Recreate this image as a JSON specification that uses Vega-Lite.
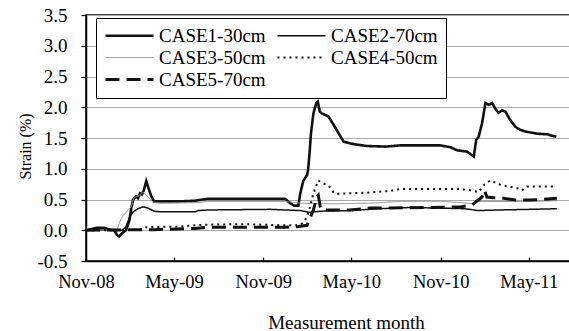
{
  "$schema": "https://vega.github.io/schema/vega-lite/v6.json",
  "autosize": {"type": "none"},
  "padding": {"left": 86, "top": 15, "right": 0, "bottom": 70},
  "width": 484,
  "height": 246,
  "background": "white",
  "config": {
    "view": {"stroke": "black", "strokeWidth": 1.5},
    "font": "Liberation Serif",
    "axis": {"labelFont": "Liberation Serif", "titleFont": "Liberation Serif", "labelColor": "black", "titleColor": "black", "titleFontWeight": "normal", "domainColor": "black", "domainWidth": 1.5, "tickColor": "black", "tickWidth": 1.2},
    "legend": {"labelFont": "Liberation Serif"}
  },
  "data": {
    "values": [
      {"d": "2008/11/01", "c": "CASE1-30cm", "v": 0},
      {"d": "2008/11/13", "c": "CASE1-30cm", "v": 0.02},
      {"d": "2008/11/24", "c": "CASE1-30cm", "v": 0.04},
      {"d": "2008/12/08", "c": "CASE1-30cm", "v": 0.04},
      {"d": "2008/12/20", "c": "CASE1-30cm", "v": 0.01},
      {"d": "2008/12/29", "c": "CASE1-30cm", "v": 0.0},
      {"d": "2009/01/04", "c": "CASE1-30cm", "v": -0.08},
      {"d": "2009/01/08", "c": "CASE1-30cm", "v": -0.1},
      {"d": "2009/01/14", "c": "CASE1-30cm", "v": -0.05},
      {"d": "2009/01/22", "c": "CASE1-30cm", "v": 0.0},
      {"d": "2009/01/29", "c": "CASE1-30cm", "v": 0.15},
      {"d": "2009/02/02", "c": "CASE1-30cm", "v": 0.35},
      {"d": "2009/02/06", "c": "CASE1-30cm", "v": 0.5},
      {"d": "2009/02/12", "c": "CASE1-30cm", "v": 0.55},
      {"d": "2009/02/16", "c": "CASE1-30cm", "v": 0.52},
      {"d": "2009/02/20", "c": "CASE1-30cm", "v": 0.6},
      {"d": "2009/02/24", "c": "CASE1-30cm", "v": 0.58},
      {"d": "2009/02/28", "c": "CASE1-30cm", "v": 0.65},
      {"d": "2009/03/05", "c": "CASE1-30cm", "v": 0.8},
      {"d": "2009/03/09", "c": "CASE1-30cm", "v": 0.7},
      {"d": "2009/03/15", "c": "CASE1-30cm", "v": 0.56},
      {"d": "2009/03/21", "c": "CASE1-30cm", "v": 0.47},
      {"d": "2009/04/02", "c": "CASE1-30cm", "v": 0.47},
      {"d": "2009/05/14", "c": "CASE1-30cm", "v": 0.47},
      {"d": "2009/06/13", "c": "CASE1-30cm", "v": 0.48},
      {"d": "2009/07/08", "c": "CASE1-30cm", "v": 0.51},
      {"d": "2009/09/14", "c": "CASE1-30cm", "v": 0.51},
      {"d": "2009/12/16", "c": "CASE1-30cm", "v": 0.51},
      {"d": "2009/12/26", "c": "CASE1-30cm", "v": 0.44},
      {"d": "2010/01/03", "c": "CASE1-30cm", "v": 0.4},
      {"d": "2010/01/12", "c": "CASE1-30cm", "v": 0.4},
      {"d": "2010/01/16", "c": "CASE1-30cm", "v": 0.6},
      {"d": "2010/01/22", "c": "CASE1-30cm", "v": 0.8},
      {"d": "2010/01/30", "c": "CASE1-30cm", "v": 0.9},
      {"d": "2010/02/01", "c": "CASE1-30cm", "v": 0.98},
      {"d": "2010/02/04", "c": "CASE1-30cm", "v": 1.25},
      {"d": "2010/02/07", "c": "CASE1-30cm", "v": 1.58},
      {"d": "2010/02/12", "c": "CASE1-30cm", "v": 1.9},
      {"d": "2010/02/18", "c": "CASE1-30cm", "v": 2.07},
      {"d": "2010/02/21", "c": "CASE1-30cm", "v": 2.09},
      {"d": "2010/02/25", "c": "CASE1-30cm", "v": 1.93},
      {"d": "2010/03/01", "c": "CASE1-30cm", "v": 1.9},
      {"d": "2010/03/15", "c": "CASE1-30cm", "v": 1.85},
      {"d": "2010/04/01", "c": "CASE1-30cm", "v": 1.63},
      {"d": "2010/04/15", "c": "CASE1-30cm", "v": 1.44},
      {"d": "2010/05/06", "c": "CASE1-30cm", "v": 1.4},
      {"d": "2010/06/02", "c": "CASE1-30cm", "v": 1.37},
      {"d": "2010/07/10", "c": "CASE1-30cm", "v": 1.36},
      {"d": "2010/08/10", "c": "CASE1-30cm", "v": 1.38},
      {"d": "2010/10/31", "c": "CASE1-30cm", "v": 1.38},
      {"d": "2010/11/21", "c": "CASE1-30cm", "v": 1.35},
      {"d": "2010/12/05", "c": "CASE1-30cm", "v": 1.3},
      {"d": "2010/12/25", "c": "CASE1-30cm", "v": 1.28},
      {"d": "2011/01/08", "c": "CASE1-30cm", "v": 1.2},
      {"d": "2011/01/13", "c": "CASE1-30cm", "v": 1.47},
      {"d": "2011/01/18", "c": "CASE1-30cm", "v": 1.52},
      {"d": "2011/01/25", "c": "CASE1-30cm", "v": 1.74},
      {"d": "2011/02/01", "c": "CASE1-30cm", "v": 2.07},
      {"d": "2011/02/08", "c": "CASE1-30cm", "v": 2.04},
      {"d": "2011/02/15", "c": "CASE1-30cm", "v": 2.07},
      {"d": "2011/02/21", "c": "CASE1-30cm", "v": 1.98},
      {"d": "2011/02/28", "c": "CASE1-30cm", "v": 1.91},
      {"d": "2011/03/07", "c": "CASE1-30cm", "v": 1.95},
      {"d": "2011/03/14", "c": "CASE1-30cm", "v": 1.93},
      {"d": "2011/03/24", "c": "CASE1-30cm", "v": 1.79},
      {"d": "2011/04/04", "c": "CASE1-30cm", "v": 1.68},
      {"d": "2011/04/14", "c": "CASE1-30cm", "v": 1.63},
      {"d": "2011/04/28", "c": "CASE1-30cm", "v": 1.6},
      {"d": "2011/05/18", "c": "CASE1-30cm", "v": 1.57},
      {"d": "2011/06/08", "c": "CASE1-30cm", "v": 1.56},
      {"d": "2011/06/27", "c": "CASE1-30cm", "v": 1.52},

      {"d": "2008/11/01", "c": "CASE2-70cm", "v": 0},
      {"d": "2008/12/20", "c": "CASE2-70cm", "v": 0.01},
      {"d": "2009/01/14", "c": "CASE2-70cm", "v": 0.0},
      {"d": "2009/01/22", "c": "CASE2-70cm", "v": 0.05},
      {"d": "2009/01/29", "c": "CASE2-70cm", "v": 0.2},
      {"d": "2009/02/06", "c": "CASE2-70cm", "v": 0.3},
      {"d": "2009/02/16", "c": "CASE2-70cm", "v": 0.35},
      {"d": "2009/02/26", "c": "CASE2-70cm", "v": 0.38},
      {"d": "2009/03/09", "c": "CASE2-70cm", "v": 0.36},
      {"d": "2009/03/21", "c": "CASE2-70cm", "v": 0.31},
      {"d": "2009/04/02", "c": "CASE2-70cm", "v": 0.3},
      {"d": "2009/06/13", "c": "CASE2-70cm", "v": 0.3},
      {"d": "2009/06/20", "c": "CASE2-70cm", "v": 0.32},
      {"d": "2009/07/12", "c": "CASE2-70cm", "v": 0.33},
      {"d": "2009/11/15", "c": "CASE2-70cm", "v": 0.34},
      {"d": "2009/12/16", "c": "CASE2-70cm", "v": 0.33},
      {"d": "2010/01/16", "c": "CASE2-70cm", "v": 0.32},
      {"d": "2010/02/05", "c": "CASE2-70cm", "v": 0.29},
      {"d": "2010/02/26", "c": "CASE2-70cm", "v": 0.31},
      {"d": "2010/04/28", "c": "CASE2-70cm", "v": 0.32},
      {"d": "2010/06/28", "c": "CASE2-70cm", "v": 0.35},
      {"d": "2010/08/29", "c": "CASE2-70cm", "v": 0.37},
      {"d": "2010/10/30", "c": "CASE2-70cm", "v": 0.36},
      {"d": "2010/12/21", "c": "CASE2-70cm", "v": 0.35},
      {"d": "2011/01/17", "c": "CASE2-70cm", "v": 0.32},
      {"d": "2011/03/03", "c": "CASE2-70cm", "v": 0.33},
      {"d": "2011/05/04", "c": "CASE2-70cm", "v": 0.34},
      {"d": "2011/06/28", "c": "CASE2-70cm", "v": 0.35},

      {"d": "2008/11/01", "c": "CASE3-50cm", "v": 0},
      {"d": "2008/12/20", "c": "CASE3-50cm", "v": 0.01},
      {"d": "2009/01/04", "c": "CASE3-50cm", "v": 0.0},
      {"d": "2009/01/09", "c": "CASE3-50cm", "v": 0.13},
      {"d": "2009/01/16", "c": "CASE3-50cm", "v": 0.24},
      {"d": "2009/01/22", "c": "CASE3-50cm", "v": 0.28},
      {"d": "2009/01/26", "c": "CASE3-50cm", "v": 0.33},
      {"d": "2009/02/02", "c": "CASE3-50cm", "v": 0.38},
      {"d": "2009/02/08", "c": "CASE3-50cm", "v": 0.54},
      {"d": "2009/02/16", "c": "CASE3-50cm", "v": 0.55},
      {"d": "2009/02/26", "c": "CASE3-50cm", "v": 0.62},
      {"d": "2009/03/05", "c": "CASE3-50cm", "v": 0.57},
      {"d": "2009/03/18", "c": "CASE3-50cm", "v": 0.46},
      {"d": "2009/04/01", "c": "CASE3-50cm", "v": 0.44},
      {"d": "2009/06/24", "c": "CASE3-50cm", "v": 0.45},
      {"d": "2009/07/08", "c": "CASE3-50cm", "v": 0.47},
      {"d": "2009/12/16", "c": "CASE3-50cm", "v": 0.47},
      {"d": "2010/01/16", "c": "CASE3-50cm", "v": 0.44},
      {"d": "2010/03/19", "c": "CASE3-50cm", "v": 0.43},
      {"d": "2010/06/09", "c": "CASE3-50cm", "v": 0.44},
      {"d": "2010/08/10", "c": "CASE3-50cm", "v": 0.47},
      {"d": "2010/10/31", "c": "CASE3-50cm", "v": 0.47},
      {"d": "2010/12/11", "c": "CASE3-50cm", "v": 0.45},
      {"d": "2011/01/05", "c": "CASE3-50cm", "v": 0.43},
      {"d": "2011/01/17", "c": "CASE3-50cm", "v": 0.47},
      {"d": "2011/04/14", "c": "CASE3-50cm", "v": 0.47},
      {"d": "2011/06/29", "c": "CASE3-50cm", "v": 0.48},

      {"d": "2008/11/01", "c": "CASE4-50cm", "v": 0},
      {"d": "2009/01/22", "c": "CASE4-50cm", "v": 0.0},
      {"d": "2009/02/28", "c": "CASE4-50cm", "v": 0.02},
      {"d": "2009/03/05", "c": "CASE4-50cm", "v": 0.05},
      {"d": "2009/05/14", "c": "CASE4-50cm", "v": 0.06},
      {"d": "2009/06/13", "c": "CASE4-50cm", "v": 0.08},
      {"d": "2009/07/08", "c": "CASE4-50cm", "v": 0.09},
      {"d": "2009/09/14", "c": "CASE4-50cm", "v": 0.1},
      {"d": "2009/12/16", "c": "CASE4-50cm", "v": 0.08},
      {"d": "2010/01/12", "c": "CASE4-50cm", "v": 0.08},
      {"d": "2010/01/22", "c": "CASE4-50cm", "v": 0.12},
      {"d": "2010/01/30", "c": "CASE4-50cm", "v": 0.22},
      {"d": "2010/02/05", "c": "CASE4-50cm", "v": 0.38},
      {"d": "2010/02/12", "c": "CASE4-50cm", "v": 0.6},
      {"d": "2010/02/22", "c": "CASE4-50cm", "v": 0.81},
      {"d": "2010/03/05", "c": "CASE4-50cm", "v": 0.76},
      {"d": "2010/03/15", "c": "CASE4-50cm", "v": 0.73},
      {"d": "2010/03/25", "c": "CASE4-50cm", "v": 0.62},
      {"d": "2010/04/01", "c": "CASE4-50cm", "v": 0.59},
      {"d": "2010/04/22", "c": "CASE4-50cm", "v": 0.6},
      {"d": "2010/06/02", "c": "CASE4-50cm", "v": 0.61},
      {"d": "2010/07/20", "c": "CASE4-50cm", "v": 0.64},
      {"d": "2010/08/10", "c": "CASE4-50cm", "v": 0.67},
      {"d": "2010/12/11", "c": "CASE4-50cm", "v": 0.67},
      {"d": "2011/01/01", "c": "CASE4-50cm", "v": 0.65},
      {"d": "2011/01/18", "c": "CASE4-50cm", "v": 0.62},
      {"d": "2011/01/28", "c": "CASE4-50cm", "v": 0.73},
      {"d": "2011/02/11", "c": "CASE4-50cm", "v": 0.81},
      {"d": "2011/02/25", "c": "CASE4-50cm", "v": 0.76},
      {"d": "2011/03/07", "c": "CASE4-50cm", "v": 0.73},
      {"d": "2011/03/21", "c": "CASE4-50cm", "v": 0.71},
      {"d": "2011/04/10", "c": "CASE4-50cm", "v": 0.68},
      {"d": "2011/04/17", "c": "CASE4-50cm", "v": 0.65},
      {"d": "2011/04/28", "c": "CASE4-50cm", "v": 0.71},
      {"d": "2011/06/28", "c": "CASE4-50cm", "v": 0.71},

      {"d": "2008/11/01", "c": "CASE5-70cm", "v": 0},
      {"d": "2009/03/21", "c": "CASE5-70cm", "v": 0.01},
      {"d": "2009/06/13", "c": "CASE5-70cm", "v": 0.03},
      {"d": "2009/07/08", "c": "CASE5-70cm", "v": 0.05},
      {"d": "2009/12/16", "c": "CASE5-70cm", "v": 0.05},
      {"d": "2010/01/12", "c": "CASE5-70cm", "v": 0.06},
      {"d": "2010/01/30", "c": "CASE5-70cm", "v": 0.08},
      {"d": "2010/02/05", "c": "CASE5-70cm", "v": 0.2},
      {"d": "2010/02/12", "c": "CASE5-70cm", "v": 0.33},
      {"d": "2010/02/19", "c": "CASE5-70cm", "v": 0.54},
      {"d": "2010/02/22", "c": "CASE5-70cm", "v": 0.57},
      {"d": "2010/02/26", "c": "CASE5-70cm", "v": 0.38},
      {"d": "2010/03/01", "c": "CASE5-70cm", "v": 0.33},
      {"d": "2010/04/28", "c": "CASE5-70cm", "v": 0.33},
      {"d": "2010/06/09", "c": "CASE5-70cm", "v": 0.36},
      {"d": "2010/10/10", "c": "CASE5-70cm", "v": 0.37},
      {"d": "2010/12/11", "c": "CASE5-70cm", "v": 0.38},
      {"d": "2011/01/04", "c": "CASE5-70cm", "v": 0.41},
      {"d": "2011/01/25", "c": "CASE5-70cm", "v": 0.54},
      {"d": "2011/01/30", "c": "CASE5-70cm", "v": 0.65},
      {"d": "2011/02/04", "c": "CASE5-70cm", "v": 0.54},
      {"d": "2011/02/18", "c": "CASE5-70cm", "v": 0.53},
      {"d": "2011/03/10", "c": "CASE5-70cm", "v": 0.52},
      {"d": "2011/04/07", "c": "CASE5-70cm", "v": 0.49},
      {"d": "2011/05/04", "c": "CASE5-70cm", "v": 0.49},
      {"d": "2011/06/28", "c": "CASE5-70cm", "v": 0.52}
    ]
  },
  "mark": {"type": "line", "interpolate": "linear"},
  "encoding": {
    "x": {
      "field": "d",
      "type": "temporal",
      "scale": {"domain": [{"year": 2008, "month": 11, "date": 1}, {"year": 2011, "month": 7, "date": 25}], "nice": false},
      "axis": {
        "values": [
          {"year": 2008, "month": 11, "date": 1},
          {"year": 2009, "month": 5, "date": 1},
          {"year": 2009, "month": 11, "date": 1},
          {"year": 2010, "month": 5, "date": 1},
          {"year": 2010, "month": 11, "date": 1},
          {"year": 2011, "month": 5, "date": 1}
        ],
        "format": "%b-%y",
        "grid": false,
        "tickSize": -4,
        "labelPadding": 30,
        "labelBaseline": "alphabetic",
        "labelFontSize": 18.5,
        "labelFlush": false,
        "labelOverlap": false,
        "title": "Measurement month",
        "titleFontSize": 19,
        "titleX": 260,
        "titleY": 67,
        "titleBaseline": "alphabetic",
        "titleAnchor": null
      }
    },
    "y": {
      "field": "v",
      "type": "quantitative",
      "scale": {"domain": [-0.5, 3.5], "nice": false, "zero": false},
      "axis": {
        "values": [-0.5, 0, 0.5, 1, 1.5, 2, 2.5, 3, 3.5],
        "labelExpr": "datum.value < 0 ? '-' + format(-datum.value, '.1f') : format(datum.value, '.1f')",
        "tickSize": 5,
        "labelPadding": 14,
        "labelFontSize": 19,
        "grid": true,
        "gridColor": "#aaaaaa",
        "gridWidth": 1,
        "title": "Strain (%)",
        "titleFontSize": 16,
        "titleX": -61,
        "titleY": 131,
        "titleAngle": -90,
        "titleBaseline": "middle",
        "titleAlign": "center"
      }
    },
    "color": {
      "field": "c",
      "type": "nominal",
      "scale": {"domain": ["CASE1-30cm", "CASE2-70cm", "CASE3-50cm", "CASE4-50cm", "CASE5-70cm"], "range": ["#111111", "#111111", "#8a8a8a", "#111111", "#111111"]},
      "legend": {
        "title": null,
        "orient": "none",
        "legendX": 10,
        "legendY": 3,
        "direction": "horizontal",
        "columns": 2,
        "symbolType": "M-4.8,0H4.8",
        "symbolSize": 100,
        "symbolOffset": 16,
        "labelFontSize": 19,
        "labelColor": "black",
        "labelOffset": 20,
        "columnPadding": 7,
        "rowPadding": 2,
        "padding": 8,
        "strokeColor": "black",
        "fillColor": "white",
        "labelLimit": 300
      }
    },
    "strokeDash": {
      "field": "c",
      "type": "nominal",
      "scale": {"domain": ["CASE1-30cm", "CASE2-70cm", "CASE3-50cm", "CASE4-50cm", "CASE5-70cm"], "range": [[1, 0], [1, 0], [1, 0], [2, 4], [14, 7]]}
    },
    "strokeWidth": {
      "field": "c",
      "type": "nominal",
      "scale": {"type": "ordinal", "domain": ["CASE1-30cm", "CASE2-70cm", "CASE3-50cm", "CASE4-50cm", "CASE5-70cm"], "range": [2.6, 1.5, 1, 2, 3]}
    }
  }
}
